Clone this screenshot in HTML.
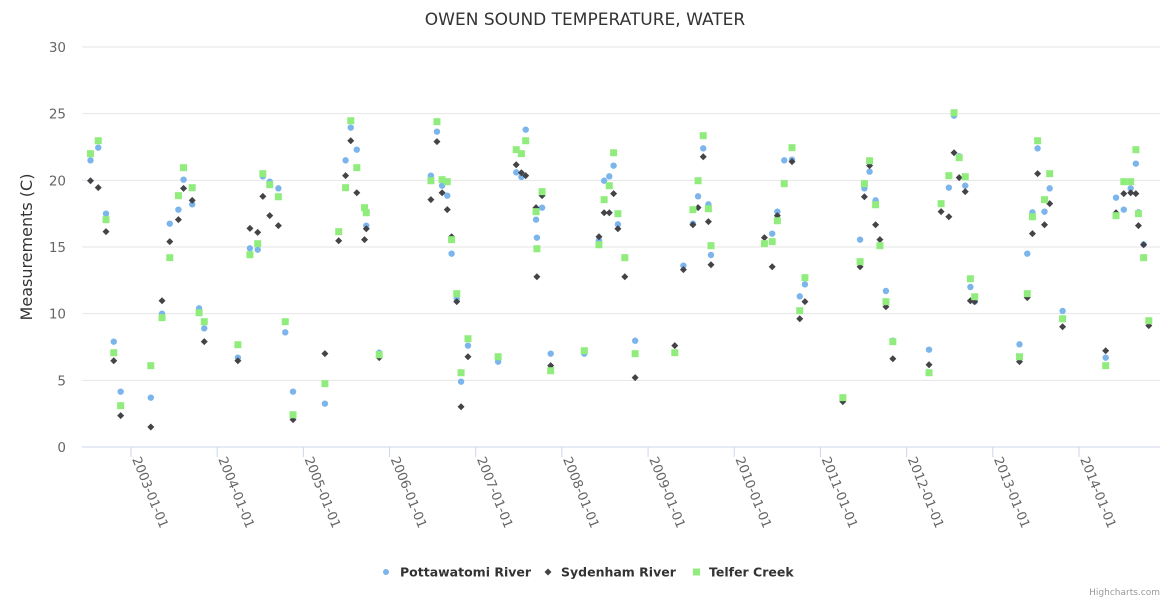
<!DOCTYPE html>
<html><head><meta charset="utf-8"><style>
body{margin:0;background:#fff;font-family:"DejaVu Sans","Liberation Sans",sans-serif}
svg text{font-family:"DejaVu Sans","Liberation Sans",sans-serif}
</style></head><body>
<svg id="c" width="1170" height="600" xmlns="http://www.w3.org/2000/svg">
<text x="585" y="25" text-anchor="middle" font-size="17" fill="#333">OWEN SOUND TEMPERATURE, WATER</text>
<text transform="translate(32,247) rotate(-90)" text-anchor="middle" font-size="16" fill="#333">Measurements (C)</text>
<g id="grid"></g>
<g id="xa"></g>
<g id="ya"></g>
<g id="marks"></g>
<g>
<g><circle cx="386" cy="572" r="3" fill="#7cb5ec"/><text x="400" y="576.5" font-size="12.5" font-weight="bold" fill="#333">Pottawatomi River</text></g>
<g><path d="M548,568.5 L551.5,572 L548,575.5 L544.5,572Z" fill="#434348"/><text x="561" y="576.5" font-size="12.5" font-weight="bold" fill="#333">Sydenham River</text></g>
<g><rect x="693" y="568.5" width="7" height="7" fill="#90ed7d"/><text x="709" y="576.5" font-size="12.5" font-weight="bold" fill="#333">Telfer Creek</text></g>
</g>
<text x="1160" y="595" text-anchor="end" font-size="9" fill="#999">Highcharts.com</text>
</svg>
<script>
const yTicks=[0,5,10,15,20,25,30];
const xTickLabels=["2003-01-01","2004-01-01","2005-01-01","2006-01-01","2007-01-01","2008-01-01","2009-01-01","2010-01-01","2011-01-01","2012-01-01","2013-01-01","2014-01-01"];
const pottX=[2002.53,2002.62,2002.71,2002.80,2002.88,2003.23,2003.36,2003.45,2003.55,2003.61,2003.71,2003.79,2003.85,2004.24,2004.38,2004.47,2004.53,2004.61,2004.71,2004.79,2004.88,2005.25,2005.49,2005.55,2005.62,2005.73,2005.88,2006.48,2006.55,2006.61,2006.67,2006.72,2006.78,2006.83,2006.91,2007.26,2007.47,2007.53,2007.58,2007.70,2007.71,2007.77,2007.87,2008.26,2008.43,2008.49,2008.55,2008.60,2008.65,2008.85,2009.41,2009.52,2009.58,2009.64,2009.70,2009.73,2010.44,2010.50,2010.58,2010.67,2010.76,2010.82,2011.46,2011.51,2011.57,2011.64,2011.76,2011.84,2012.26,2012.49,2012.55,2012.61,2012.68,2012.74,2012.79,2013.31,2013.40,2013.46,2013.52,2013.60,2013.66,2013.81,2014.31,2014.43,2014.52,2014.60,2014.66,2014.69,2014.75];
const pottY=[21.5,22.45,17.5,7.9,4.15,3.7,10.0,16.75,17.8,20.05,18.2,10.4,8.9,6.7,14.9,14.8,20.3,19.9,19.4,8.6,4.15,3.25,21.5,23.95,22.3,16.6,7.07,20.35,23.65,19.6,18.85,14.5,11.1,4.9,7.6,6.4,20.6,20.25,23.8,17.05,15.7,17.95,7.0,7.0,15.5,19.97,20.3,21.1,16.7,7.97,13.6,16.75,18.8,22.4,18.2,14.4,16.0,17.65,21.5,21.55,11.3,12.2,15.55,19.4,20.65,18.5,11.7,7.97,7.3,19.45,24.85,21.8,19.6,12.0,10.9,7.7,14.5,17.6,22.4,17.65,19.4,10.2,6.7,18.7,17.8,19.4,21.25,17.6,15.2];
const sydX=[2002.53,2002.62,2002.71,2002.80,2002.88,2003.23,2003.36,2003.45,2003.55,2003.61,2003.71,2003.85,2004.24,2004.38,2004.47,2004.53,2004.61,2004.71,2004.88,2005.25,2005.41,2005.49,2005.55,2005.62,2005.71,2005.73,2005.88,2006.48,2006.55,2006.61,2006.67,2006.72,2006.78,2006.83,2006.91,2007.47,2007.53,2007.58,2007.70,2007.71,2007.77,2007.87,2008.43,2008.49,2008.55,2008.60,2008.65,2008.73,2008.85,2009.31,2009.41,2009.52,2009.58,2009.64,2009.70,2009.73,2010.35,2010.44,2010.50,2010.67,2010.76,2010.82,2011.26,2011.46,2011.51,2011.57,2011.64,2011.69,2011.76,2011.84,2012.26,2012.40,2012.49,2012.55,2012.61,2012.68,2012.74,2012.79,2013.31,2013.40,2013.46,2013.52,2013.60,2013.66,2013.81,2014.31,2014.43,2014.52,2014.60,2014.66,2014.69,2014.75,2014.81];
const sydY=[19.97,19.45,16.15,6.47,2.35,1.5,10.97,15.4,17.05,19.4,18.5,7.9,6.47,16.4,16.1,18.8,17.35,16.6,2.05,7.0,15.47,20.35,22.97,19.07,15.55,16.37,6.7,18.55,22.9,19.07,17.8,15.77,10.9,3.02,6.77,21.17,20.57,20.35,17.95,12.77,18.85,6.1,15.77,17.57,17.57,19.0,16.37,12.77,5.2,7.6,13.3,16.67,17.95,21.77,16.9,13.67,15.7,13.52,17.35,21.4,9.62,10.9,3.4,13.52,18.77,21.1,16.67,15.55,10.52,6.62,6.17,17.65,17.27,22.07,20.2,19.15,10.97,10.9,6.4,11.2,16.0,20.5,16.67,18.25,9.02,7.22,17.57,19.0,19.07,19.0,16.6,15.17,9.1];
const telX=[2002.53,2002.62,2002.71,2002.80,2002.88,2003.23,2003.36,2003.45,2003.55,2003.61,2003.71,2003.79,2003.85,2004.24,2004.38,2004.47,2004.53,2004.61,2004.71,2004.79,2004.88,2005.25,2005.41,2005.49,2005.55,2005.62,2005.71,2005.73,2005.88,2006.48,2006.55,2006.61,2006.67,2006.72,2006.78,2006.83,2006.91,2007.26,2007.47,2007.53,2007.58,2007.70,2007.71,2007.77,2007.87,2008.26,2008.43,2008.49,2008.55,2008.60,2008.65,2008.73,2008.85,2009.31,2009.52,2009.58,2009.64,2009.70,2009.73,2010.35,2010.44,2010.50,2010.58,2010.67,2010.76,2010.82,2011.26,2011.46,2011.51,2011.57,2011.64,2011.69,2011.76,2011.84,2012.26,2012.40,2012.49,2012.55,2012.61,2012.68,2012.74,2012.79,2013.31,2013.40,2013.46,2013.52,2013.60,2013.66,2013.81,2014.31,2014.43,2014.52,2014.60,2014.66,2014.69,2014.75,2014.81];
const telY=[22.0,22.97,17.05,7.07,3.1,6.1,9.7,14.2,18.85,20.95,19.45,10.07,9.4,7.67,14.42,15.25,20.5,19.67,18.77,9.4,2.42,4.75,16.15,19.45,24.47,20.95,17.95,17.57,6.92,19.97,24.4,20.05,19.9,15.55,11.5,5.57,8.12,6.77,22.3,22.0,22.97,17.65,14.87,19.15,5.72,7.22,15.17,18.55,19.6,22.07,17.5,14.2,7.0,7.07,17.8,19.97,23.35,17.87,15.1,15.25,15.4,16.97,19.75,22.45,10.22,12.7,3.7,13.9,19.75,21.47,18.17,15.1,10.9,7.9,5.57,18.25,20.35,25.07,21.7,20.27,12.62,11.27,6.77,11.5,17.27,22.97,18.55,20.5,9.62,6.1,17.35,19.9,19.9,22.3,17.5,14.2,9.47];

const NS="http://www.w3.org/2000/svg";
const L=82,R=1160,T=47,B=447;
function xs(v){return 131+(v-2003)*86.18;}
function ys(v){return B-(v/30)*(B-T);}
function mk(tag,at,parent){const e=document.createElementNS(NS,tag);for(const k in at)e.setAttribute(k,at[k]);parent.appendChild(e);return e;}
const grid=document.getElementById('grid'),ya=document.getElementById('ya'),xa=document.getElementById('xa'),marks=document.getElementById('marks');
yTicks.forEach(t=>{
  const y=ys(t);
  const g=mk('line',{x1:L,x2:R,y1:y,y2:y,stroke:t===0?'#ccd6eb':'#e6e6e6','stroke-width':1},grid);
  
  
  const tx=mk('text',{x:66,y:y+5,'text-anchor':'end','font-size':13.5,fill:'#666'},ya);
  tx.textContent=t;
  
  
});
xTickLabels.forEach((lab,i)=>{
  const x=xs(2003+i);
  const tk=mk('line',{x1:x,x2:x,y1:B,y2:B+10,stroke:'#ccd6eb'},xa);
  
  
  const tx=mk('text',{x:0,y:0,'font-size':13,fill:'#666',transform:'translate('+(x+1)+','+(B+12)+') rotate(68)'},xa);
  tx.textContent=lab;
  
  
});
pottX.forEach((v,i)=>{
  const c=mk('circle',{cx:xs(v),cy:ys(pottY[i]),r:3.2,fill:'#7cb5ec'},marks);
  
  
});
sydX.forEach((v,i)=>{
  const x=xs(v),y=ys(sydY[i]);
  const p=mk('path',{d:'M'+x+','+(y-3.5)+' L'+(x+3.5)+','+y+' L'+x+','+(y+3.5)+' L'+(x-3.5)+','+y+'Z',fill:'#434348'},marks);
  
  
});
telX.forEach((v,i)=>{
  const r=mk('rect',{x:xs(v)-3.5,y:ys(telY[i])-3.5,width:7,height:7,fill:'#90ed7d'},marks);
  
  
});
</script>
</body></html>
